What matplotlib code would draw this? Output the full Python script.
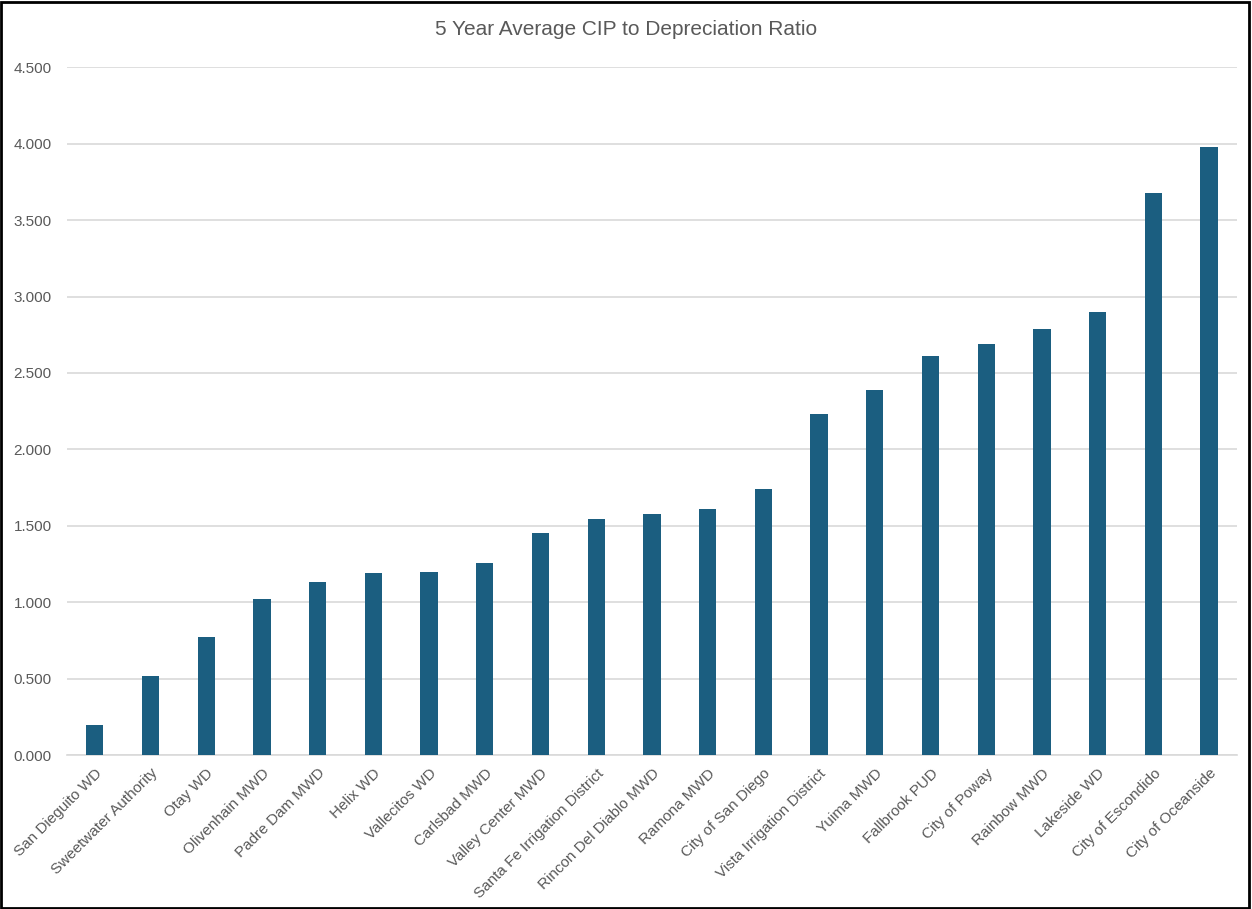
import matplotlib
matplotlib.use("Agg")
import matplotlib.pyplot as plt
from matplotlib.patches import Rectangle

agencies = [
    "San Dieguito WD", "Sweetwater Authority", "Otay WD", "Olivenhain MWD",
    "Padre Dam MWD", "Helix WD", "Vallecitos WD", "Carlsbad MWD",
    "Valley Center MWD", "Santa Fe Irrigation District", "Rincon Del Diablo MWD",
    "Ramona MWD", "City of San Diego", "Vista Irrigation District", "Yuima MWD",
    "Fallbrook PUD", "City of Poway", "Rainbow MWD", "Lakeside WD",
    "City of Escondido", "City of Oceanside",
]
ratios = [
    0.196, 0.517, 0.770, 1.020, 1.130, 1.190, 1.200, 1.256, 1.450, 1.543,
    1.580, 1.610, 1.740, 2.230, 2.387, 2.610, 2.690, 2.786, 2.897, 3.676,
    3.980,
]
y_ticks = [0, 0.5, 1.0, 1.5, 2.0, 2.5, 3.0, 3.5, 4.0, 4.5]

plt.rcParams["font.family"] = ["Liberation Sans", "DejaVu Sans"]

fig = plt.figure(figsize=(12.52, 9.09), dpi=100)
ax = fig.add_axes([0.0535, 0.1694, 0.9345, 0.7566])

x = range(len(agencies))
ax.bar(x, ratios, width=0.31, color="#1b5e80", zorder=3)

ax.set_xlim(-0.5, len(agencies) - 0.5)
ax.set_ylim(0, 4.5)
ax.set_yticks(y_ticks)
ax.set_yticklabels([f"{v:.3f}" for v in y_ticks])
ax.yaxis.grid(True, color="#d9d9d9", linewidth=1.2, zorder=0)
ax.set_xticks(list(x))
ax.set_xticklabels(agencies, rotation=45, ha="right", rotation_mode="anchor")

for s in ["top", "right", "left"]:
    ax.spines[s].set_visible(False)
ax.spines["bottom"].set_color("#d9d9d9")
ax.spines["bottom"].set_linewidth(1.2)
ax.tick_params(axis="both", length=0, colors="#595959", labelsize=11)
ax.tick_params(axis="y", pad=11)
ax.tick_params(axis="x", pad=8)

fig.text(0.5, 0.968, "5 Year Average CIP to Depreciation Ratio",
         ha="center", va="center", fontsize=15, color="#595959")

fig.patches.append(Rectangle((0.001, 0.001), 0.997, 0.997, transform=fig.transFigure,
                             fill=False, edgecolor="black", linewidth=2.0))

fig.savefig("out.png", dpi=100)
